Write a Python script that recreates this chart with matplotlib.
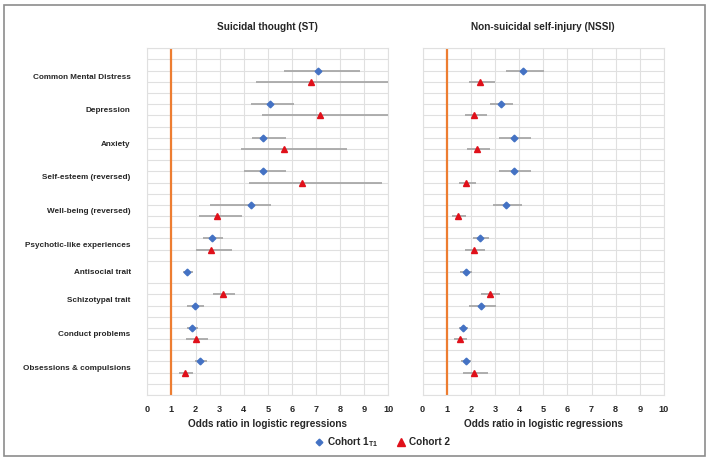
"""
Forest-style plot: odds ratios of psychopathology measures for suicidal
thought (ST) and non-suicidal self-injury (NSSI), two cohorts.
"""

import numpy as np
import matplotlib

matplotlib.use("Agg")
import matplotlib.pyplot as plt
from matplotlib.lines import Line2D
from matplotlib.patches import Rectangle

nan = np.nan

categories = [
    "Common Mental Distress",
    "Depression",
    "Anxiety",
    "Self-esteem (reversed)",
    "Well-being (reversed)",
    "Psychotic-like experiences",
    "Antisocial trait",
    "Schizotypal trait",
    "Conduct problems",
    "Obsessions & compulsions",
]
# Cohort 2 row drawn above Cohort 1 for this category
cohort2_first = [False, False, False, False, False, False, False, True, False, False]

# Suicidal thought (ST)
st_c1 = [7.07, 5.10, 4.81, 4.81, 4.29, 2.70, 1.66, 1.98, 1.87, 2.19]
st_c1_lo = [5.67, 4.29, 4.33, 4.01, 2.60, 2.32, 1.47, 1.66, 1.65, 1.96]
st_c1_hi = [8.82, 6.07, 5.75, 5.75, 5.13, 3.13, 1.88, 2.35, 2.12, 2.46]
st_c2 = [6.79, 7.18, 5.68, 6.40, 2.88, 2.64, nan, 3.14, 2.01, 1.58]
st_c2_lo = [4.51, 4.77, 3.90, 4.23, 2.13, 2.01, nan, 2.71, 1.59, 1.31]
st_c2_hi = [10.5, 10.5, 8.30, 9.75, 3.91, 3.50, nan, 3.65, 2.53, 1.88]

# Non-suicidal self-injury (NSSI)
nssi_c1 = [4.17, 3.24, 3.77, 3.77, 3.46, 2.37, 1.80, 2.42, 1.68, 1.78]
nssi_c1_lo = [3.46, 2.80, 3.18, 3.18, 2.92, 2.07, 1.57, 1.94, 1.53, 1.60]
nssi_c1_hi = [5.01, 3.75, 4.48, 4.48, 4.10, 2.75, 2.05, 3.03, 1.87, 2.00]
nssi_c2 = [2.40, 2.15, 2.26, 1.80, 1.46, 2.13, nan, 2.78, 1.56, 2.13]
nssi_c2_lo = [1.93, 1.75, 1.83, 1.49, 1.21, 1.75, nan, 2.42, 1.32, 1.67]
nssi_c2_hi = [3.00, 2.66, 2.78, 2.23, 1.79, 2.60, nan, 3.22, 1.86, 2.73]

panel_titles = ["Suicidal thought (ST)", "Non-suicidal self-injury (NSSI)"]
xlabel = "Odds ratio in logistic regressions"
legend_labels = [r"Cohort 1$_{\mathbf{T1}}$", "Cohort 2"]

BLUE = "#4472C4"
RED = "#E0101A"
ORANGE = "#ED7D31"
GRID = "#E0E0E0"
BAR = "#A8A8A8"
TEXT = "#262626"
FONT = "Liberation Sans"

plt.rcParams["font.family"] = [FONT, "DejaVu Sans"]
plt.rcParams["mathtext.fontset"] = "custom"
plt.rcParams["mathtext.rm"] = FONT
plt.rcParams["mathtext.bf"] = FONT + ":bold"


def assign_rows(c2_vals):
    """Rows run top-down, one per series, with a blank row between categories."""
    rows1, rows2, label_rows = [], [], []
    row = 2
    for v2, c2top in zip(c2_vals, cohort2_first):
        has2 = not np.isnan(v2)
        if has2 and c2top:
            r2, r1 = row, row + 1
        elif has2:
            r1, r2 = row, row + 1
        else:
            r1, r2 = row, nan
        rows1.append(r1)
        rows2.append(r2)
        label_rows.append(r1 if not has2 else (r1 + r2) / 2)
        row += (2 if has2 else 1) + 1
    return rows1, rows2, label_rows, row


def draw_panel(ax, c1, c1_lo, c1_hi, c2, c2_lo, c2_hi, title, show_labels):
    rows1, rows2, label_rows, nrows = assign_rows(c2)
    ax.set_xlim(0, 10)
    ax.set_ylim(nrows, 0)

    ax.set_xticks(range(11))
    ax.set_yticks(range(nrows + 1), minor=True)
    ax.grid(True, which="major", axis="x", color=GRID, lw=0.8)
    ax.grid(True, which="minor", axis="y", color=GRID, lw=0.8)
    ax.set_axisbelow(True)
    for sp in ax.spines.values():
        sp.set_color(GRID)
        sp.set_linewidth(0.8)

    ax.axvline(1, color=ORANGE, lw=1.6, zorder=2)

    ax.hlines(rows1, c1_lo, c1_hi, color=BAR, lw=1.3, zorder=3)
    ax.hlines(rows2, c2_lo, c2_hi, color=BAR, lw=1.3, zorder=3)
    ax.plot(c1, rows1, ls="none", marker="D", ms=3.4, color=BLUE, zorder=4)
    ax.plot(c2, rows2, ls="none", marker="^", ms=5.0, color=RED, zorder=4)

    if show_labels:
        ax.set_yticks(label_rows)
        ax.set_yticklabels(categories, fontsize=5.9, fontweight="bold", color=TEXT)
    else:
        ax.set_yticks([])
    ax.tick_params(axis="y", which="both", length=0, pad=12)
    ax.tick_params(axis="x", length=0, pad=7, labelsize=6.6, labelcolor=TEXT)
    for lab in ax.get_xticklabels():
        lab.set_fontweight("bold")

    ax.set_xlabel(xlabel, fontsize=7.2, fontweight="bold", color=TEXT, labelpad=4)
    ax.set_title(title, fontsize=7.2, fontweight="bold", color=TEXT, pad=13)


fig = plt.figure(figsize=(7.08, 4.61), dpi=100)
ax1 = fig.add_axes([0.2081, 0.1432, 0.3404, 0.752])
ax2 = fig.add_axes([0.5968, 0.1432, 0.3411, 0.752])

draw_panel(ax1, st_c1, st_c1_lo, st_c1_hi, st_c2, st_c2_lo, st_c2_hi,
           panel_titles[0], True)
draw_panel(ax2, nssi_c1, nssi_c1_lo, nssi_c1_hi, nssi_c2, nssi_c2_lo, nssi_c2_hi,
           panel_titles[1], False)

handles = [
    Line2D([], [], ls="none", marker="D", ms=3.4, color=BLUE),
    Line2D([], [], ls="none", marker="^", ms=5.5, color=RED),
]
leg = fig.legend(handles, legend_labels, loc="center", bbox_to_anchor=(0.54, 1 - 442 / 461),
                 ncol=2, frameon=False, handlelength=1.0, handletextpad=0.3,
                 columnspacing=1.8, prop={"family": FONT, "weight": "bold", "size": 7.2})
for t in leg.get_texts():
    t.set_color(TEXT)

# outer frame
fig.add_artist(Rectangle((4 / 708, 1 - 456 / 461), 701 / 708, 451 / 461,
                         transform=fig.transFigure, fill=False,
                         edgecolor="#8C8C8C", lw=1.2))

fig.savefig("out.png", dpi=100)
